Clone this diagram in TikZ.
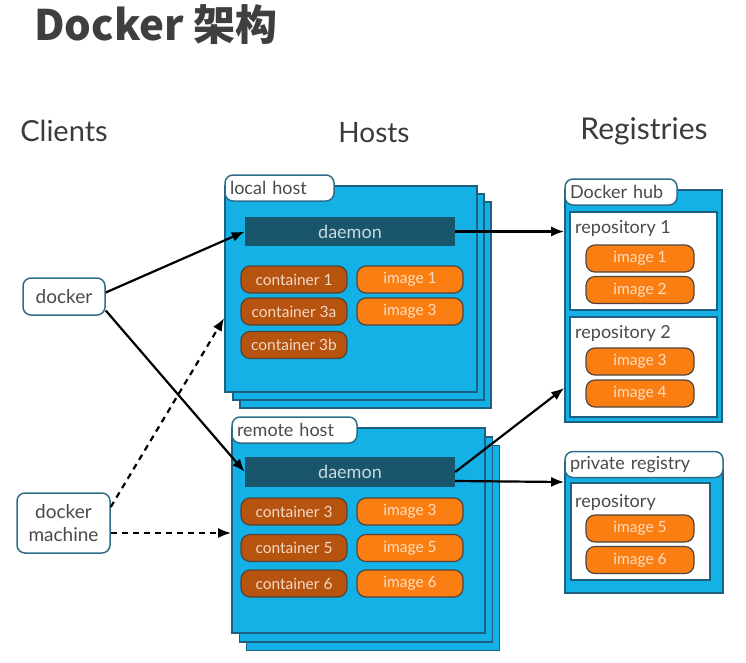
\documentclass[tikz,border=0pt]{standalone}
\usepackage{fontspec}
\setmainfont{Lato}
\newfontfamily\titlefont{Noto Sans CJK SC}
\usetikzlibrary{arrows.meta}
\definecolor{hostblue}{HTML}{14B1E7}
\definecolor{hostedge}{HTML}{1F5F80}
\definecolor{daemonc}{HTML}{1A566B}
\definecolor{daemontxt}{HTML}{C9D9DE}
\definecolor{contc}{HTML}{B5530F}
\definecolor{conttxt}{HTML}{F3D9C6}
\definecolor{imgc}{HTML}{FB7E12}
\definecolor{imgtxt}{HTML}{FCDDC2}
\definecolor{pilledge}{HTML}{4E463E}
\definecolor{labedge}{HTML}{2E6E88}
\definecolor{txtgray}{HTML}{4A4A4A}
\tikzset{
  hostbox/.style={draw=hostedge, fill=hostblue, line width=1.6pt, inner sep=0pt},
  tagbox/.style={draw=labedge, fill=white, line width=1.5pt, rounded corners=8pt, inner xsep=5pt, inner ysep=0pt, text=txtgray, font=\fontsize{18}{20}\selectfont, align=left, text width=#1, minimum height=26pt},
  repobox/.style={draw=hostedge, fill=white, line width=1.4pt, inner sep=0pt},
  daemonbox/.style={fill=daemonc, text=daemontxt, minimum width=210pt, inner sep=0pt, font=\fontsize{18}{20}\selectfont},
  pill/.style={draw=pilledge, line width=1.2pt, rounded corners=9pt, minimum width=106pt, minimum height=27pt, inner sep=0pt, font=\fontsize{15.5}{17}\selectfont},
  contpill/.style={pill, fill=contc, text=conttxt},
  imgpill/.style={pill, fill=imgc, text=imgtxt},
  clientbox/.style={draw=labedge, fill=white, line width=1.5pt, rounded corners=8pt, inner sep=0pt, text=txtgray, font=\fontsize{19}{23}\selectfont, align=center},
  heading/.style={text=txtgray!80!black, font=\fontsize{29}{32}\selectfont},
  plaintxt/.style={text=txtgray, font=\fontsize{18}{20}\selectfont, anchor=west, inner sep=0pt},
  conn/.style={line width=2.2pt, -{Latex[length=13pt,width=10pt]}},
  dconn/.style={conn, dash pattern=on 6pt off 5pt},
}
\begin{document}
\begin{tikzpicture}[x=1pt,y=-1pt]
\useasboundingbox (0,0) rectangle (746,662);
% title
\node[anchor=west, inner sep=0pt, text=txtgray!85!black, font=\titlefont\bfseries\fontsize{42}{44}\selectfont] (title) at (34,25) {Docker 架构};
% headings
\node[heading] (hclients) at (64,131) {Clients};
\node[heading, font=\fontsize{28}{32}\selectfont] (hhosts) at (374,133) {Hosts};
\node[heading, font=\fontsize{30}{32}\selectfont] (hreg) at (644,131) {Registries};
% local host stack
\node[hostbox, minimum width=251pt, minimum height=206pt] (lhost3) at (365.5,305) {};
\node[hostbox, minimum width=251pt, minimum height=206pt] (lhost2) at (358.5,297) {};
\node[hostbox, minimum width=252pt, minimum height=206pt] (lhost) at (351,289) {};
\node[tagbox=99pt] (lhostlabel) at (279.5,188) {local host};
\node[daemonbox, minimum height=29pt] (ldaemon) at (350,231.5) {daemon};
\node[contpill] (lc1) at (294,279.5) {container 1};
\node[contpill] (lc3a) at (294,311.5) {container 3a};
\node[contpill] (lc3b) at (294,345) {container 3b};
\node[imgpill] (li1) at (410,279.5) {image 1};
\node[imgpill] (li3) at (410,311.5) {image 3};
% remote host stack
\node[hostbox, minimum width=253pt, minimum height=205pt] (rhost3) at (373,548) {};
\node[hostbox, minimum width=253pt, minimum height=205pt] (rhost2) at (366,539.5) {};
\node[hostbox, minimum width=253pt, minimum height=205pt] (rhost) at (358.5,530.5) {};
\node[tagbox=115pt] (rhostlabel) at (294.5,430) {remote host};
\node[daemonbox, minimum height=30pt] (rdaemon) at (350,472) {daemon};
\node[contpill] (rc3) at (294,511.5) {container 3};
\node[contpill] (rc5) at (294,548) {container 5};
\node[contpill] (rc6) at (294,583.5) {container 6};
\node[imgpill] (ri3) at (410,511.5) {image 3};
\node[imgpill] (ri5) at (410,548) {image 5};
\node[imgpill] (ri6) at (410,583.5) {image 6};
% docker hub
\node[hostbox, minimum width=157pt, minimum height=232pt] (hub) at (643.5,306) {};
\node[tagbox=102pt] (hublabel) at (621,192) {Docker hub};
\node[repobox, minimum width=147pt, minimum height=98pt] (repo1) at (643.5,261) {};
\node[repobox, minimum width=147pt, minimum height=100pt] (repo2) at (643.5,367) {};
\node[plaintxt] (repo1t) at (575,228) {repository 1};
\node[plaintxt] (repo2t) at (575,333) {repository 2};
\node[imgpill, minimum width=108pt] (hi1) at (640,258.5) {image 1};
\node[imgpill, minimum width=108pt] (hi2) at (640,290) {image 2};
\node[imgpill, minimum width=108pt] (hi3) at (640,361.5) {image 3};
\node[imgpill, minimum width=108pt] (hi4) at (640,393.5) {image 4};
% private registry
\node[hostbox, minimum width=158pt, minimum height=131pt] (priv) at (644,527.5) {};
\node[tagbox=148pt] (privlabel) at (644,464.5) {private registry};
\node[repobox, minimum width=139pt, minimum height=97pt] (prepo) at (640.5,531.5) {};
\node[plaintxt] (prepot) at (575,502) {repository};
\node[imgpill, minimum width=108pt] (pi5) at (640,528.5) {image 5};
\node[imgpill, minimum width=108pt] (pi6) at (640,560) {image 6};
% clients
\node[clientbox, minimum width=82pt, minimum height=37pt] (docker) at (64,296.5) {docker};
\node[clientbox, minimum width=93pt, minimum height=60pt] (dm) at (63.5,523) {docker\\machine};
% connectors
\draw[conn] ([yshift=4pt]docker.east) -- (ldaemon.west);
\draw[conn] ([yshift=-14pt]docker.east) -- (rdaemon.west);
\draw[dconn] ([yshift=16pt]dm.east) -- ([yshift=-29pt]lhost.west);
\draw[dconn] ([yshift=-10pt]dm.east) -- ([yshift=-2.5pt]rhost.west);
\draw[conn] (ldaemon.east) -- (ldaemon.east -| hub.west);
\draw[conn] (rdaemon.east) -- ([yshift=-82pt]hub.west);
\coordinate (rdout) at ([yshift=-9pt]rdaemon.east);
\draw[conn] (rdout) -- ([yshift=45.5pt]priv.west);
\end{tikzpicture}
\end{document}
